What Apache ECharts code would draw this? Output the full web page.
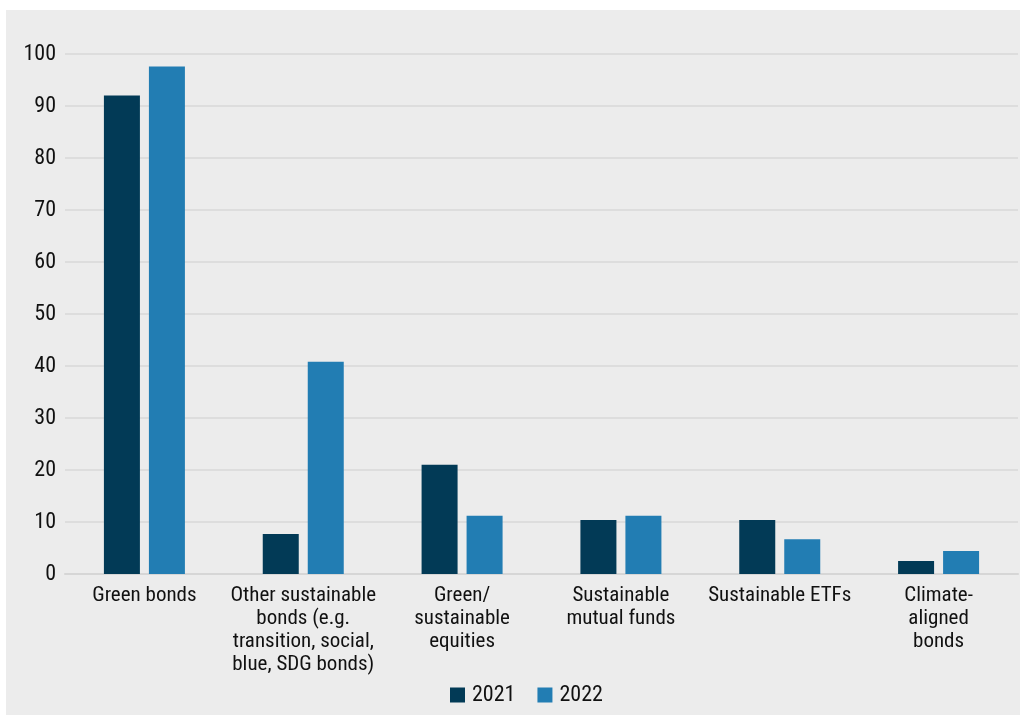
<!DOCTYPE html>
<html>
<head>
<meta charset="utf-8">
<script src="https://cdn.jsdelivr.net/npm/echarts@6/dist/echarts.min.js"></script>
<style>
html,body{margin:0;padding:0;background:#ffffff;}
#chart{width:1020px;height:715px;}
</style>
</head>
<body>
<div id="chart"></div>
<script>
const categories = [
  "Green bonds",
  "Other sustainable\nbonds (e.g.\ntransition, social,\nblue, SDG bonds)",
  "Green/\nsustainable\nequities",
  "Sustainable\nmutual funds",
  "Sustainable ETFs",
  "Climate-\naligned\nbonds"
];
const seriesNames = ["2021", "2022"];
const values2021 = [92, 7.7, 21, 10.4, 10.4, 2.5];
const values2022 = [97.6, 40.8, 11.2, 11.2, 6.7, 4.4];
const yTicks = [0, 10, 20, 30, 40, 50, 60, 70, 80, 90, 100];

const FONT = "'Roboto Condensed', 'Liberation Sans Narrow', 'DejaVu Sans Condensed', Roboto, sans-serif";
const chart = echarts.init(document.getElementById('chart'), null, {renderer: 'canvas'});
chart.setOption({
  backgroundColor: 'transparent',
  animation: false,
  textStyle: {fontFamily: FONT},
  graphic: [{
    type: 'rect', z: -10, silent: true,
    shape: {x: 6, y: 10, width: 1014, height: 705},
    style: {fill: '#ececec'}
  }],
  grid: {left: 65, right: 2, top: 54, bottom: 141, containLabel: false},
  legend: {
    data: seriesNames,
    top: 684,
    left: 450,
    padding: 0,
    itemWidth: 15, itemHeight: 15, itemGap: 22,
    icon: 'rect',
    textStyle: {fontFamily: FONT, fontSize: 22, color: '#111', padding: [0, 0, 0, 2]}
  },
  xAxis: {
    type: 'category',
    data: categories,
    axisLine: {show: true, lineStyle: {color: '#d6d6d6', width: 2}},
    axisTick: {show: false},
    axisLabel: {fontFamily: FONT, fontSize: 21, color: '#111', lineHeight: 23, interval: 0, margin: 10}
  },
  yAxis: {
    type: 'value',
    min: yTicks[0], max: yTicks[yTicks.length - 1], interval: 10,
    axisLine: {show: false},
    axisTick: {show: false},
    splitLine: {lineStyle: {color: '#d9d9d9', width: 1.5}},
    axisLabel: {fontFamily: FONT, fontSize: 22, color: '#111', margin: 9}
  },
  series: [
    {name: seriesNames[0], type: 'bar', data: values2021, barWidth: 36, barGap: '25%',
     itemStyle: {color: '#023a56'}},
    {name: seriesNames[1], type: 'bar', data: values2022, barWidth: 36,
     itemStyle: {color: '#227db3'}}
  ]
});
</script>
</body>
</html>
